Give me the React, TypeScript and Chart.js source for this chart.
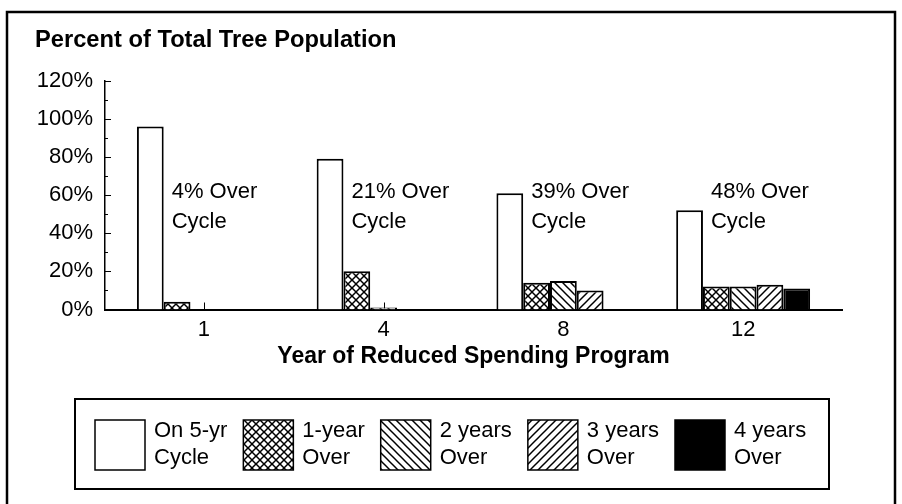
import React, { useEffect, useRef } from "react";
import { Chart, registerables } from "chart.js";

Chart.register(...registerables);

// ---- data ----
const years = ["1", "4", "8", "12"];
const onCycle = [96, 79, 61, 52];
const oneYearOver = [4, 20, 14, 12];
const twoYearsOver = [0, 1, 15, 12];
const threeYearsOver = [0, 0, 10, 13];
const fourYearsOver = [0, 0, 0, 11];
const percentOverCycle = [4, 21, 39, 48];
const seriesNames = [
  ["On 5-yr", "Cycle"],
  ["1-year", "Over"],
  ["2 years", "Over"],
  ["3 years", "Over"],
  ["4 years", "Over"],
];
const seriesValues = [onCycle, oneYearOver, twoYearsOver, threeYearsOver, fourYearsOver];
const seriesFillKinds = ["white", "cross", "back", "fwd", "black"];
const chartTitle = "Percent of Total Tree Population";
const xAxisTitle = "Year of Reduced Spending Program";
const yMax = 120;
const yStep = 20;

const FONT = '"Liberation Sans", Arial, Helvetica, sans-serif';

function makeFill(kind: string): CanvasPattern | string {
  if (kind === "white") return "#ffffff";
  if (kind === "black") return "#000000";
  const s = 8;
  const c = document.createElement("canvas");
  c.width = s;
  c.height = s;
  const g = c.getContext("2d")!;
  g.fillStyle = "#ffffff";
  g.fillRect(0, 0, s, s);
  g.strokeStyle = "#000000";
  g.lineWidth = 1.5;
  const back = () => {
    for (const o of [-s, 0, s]) {
      g.beginPath();
      g.moveTo(o - 1, -1);
      g.lineTo(o + s + 1, s + 1);
      g.stroke();
    }
  };
  const fwd = () => {
    for (const o of [0, s, 2 * s]) {
      g.beginPath();
      g.moveTo(o + 1, -1);
      g.lineTo(o - s - 1, s + 1);
      g.stroke();
    }
  };
  if (kind === "cross") {
    back();
    fwd();
  } else if (kind === "back") back();
  else if (kind === "fwd") fwd();
  const p = g.createPattern(c, "repeat");
  return p || "#888";
}

const decorPlugin = {
  id: "decor",
  beforeDatasetsDraw(chart: any) {
    const ctx = chart.ctx as CanvasRenderingContext2D;
    const { left, bottom } = chart.chartArea;
    const xs = chart.scales.x;
    const ys = chart.scales.y;
    ctx.save();
    ctx.strokeStyle = "#000";
    ctx.lineWidth = 1;
    for (let v = 0; v <= yMax; v += yStep / 2) {
      const y = Math.round(ys.getPixelForValue(v)) + 0.5;
      const len = v % yStep === 0 ? 6 : 3;
      ctx.beginPath();
      ctx.moveTo(left, y);
      ctx.lineTo(left + len, y);
      ctx.stroke();
    }
    years.forEach((_, i) => {
      const x = Math.round(xs.getPixelForValue(i)) + 0.5;
      ctx.beginPath();
      ctx.moveTo(x, bottom);
      ctx.lineTo(x, bottom - 7);
      ctx.stroke();
    });
    ctx.restore();
  },
  afterDraw(chart: any) {
    const ctx = chart.ctx as CanvasRenderingContext2D;
    const { left, right } = chart.chartArea;
    const ys = chart.scales.y;
    ctx.save();
    // outer frame
    ctx.strokeStyle = "#000";
    ctx.lineWidth = 2.5;
    ctx.strokeRect(7, 12, 888, 540);

    // chart title
    ctx.fillStyle = "#000";
    ctx.textBaseline = "middle";
    ctx.textAlign = "left";
    ctx.font = `bold 23.7px ${FONT}`;
    ctx.fillText(chartTitle, 35, 40);

    // x axis title
    ctx.font = `bold 23px ${FONT}`;
    ctx.textAlign = "center";
    ctx.fillText(xAxisTitle, (left + right) / 2, 357);

    // annotations
    ctx.textAlign = "left";
    ctx.font = `22px ${FONT}`;
    const meta0 = chart.getDatasetMeta(0);
    percentOverCycle.forEach((p, i) => {
      const bar: any = meta0.data[i];
      const x = bar.x + bar.width / 2 + 8;
      ctx.fillText(`${p}% Over`, x, ys.getPixelForValue(61.5));
      ctx.fillText("Cycle", x, ys.getPixelForValue(46));
    });

    // legend
    ctx.lineWidth = 2;
    ctx.strokeRect(75, 399, 754, 90);
    ctx.lineWidth = 1.5;
    let x = 95;
    seriesNames.forEach((lines, i) => {
      const fill = chart.data.datasets[i].backgroundColor;
      ctx.fillStyle = fill;
      ctx.fillRect(x, 420, 50, 50);
      ctx.strokeRect(x, 420, 50, 50);
      ctx.fillStyle = "#000";
      ctx.fillText(lines[0], x + 59, 431);
      ctx.fillText(lines[1], x + 59, 458);
      const w = Math.max(...lines.map((l) => ctx.measureText(l).width));
      x += 59 + w + 16;
    });
    ctx.restore();
  },
};

export default function App() {
  const ref = useRef<HTMLCanvasElement>(null);

  useEffect(() => {
    const canvas = ref.current;
    if (!canvas) return;
    const datasets = seriesNames.map((name, si) => ({
      label: name.join(" "),
      data: seriesValues[si].map((v, i) => ({ x: i, y: v })),
      backgroundColor: makeFill(seriesFillKinds[si]) as any,
      borderColor: "#000000",
      borderWidth: 2,
      barPercentage: 1,
      categoryPercentage: 0.745,
    }));

    const chart = new Chart(canvas, {
      type: "bar",
      data: { datasets },
      options: {
        animation: false,
        responsive: false,
        maintainAspectRatio: false,
        devicePixelRatio: 1,
        events: [],
        layout: { padding: { top: 80.7, right: 60, bottom: 160.5, left: 0 } },
        plugins: {
          legend: { display: false },
          title: { display: false },
          tooltip: { enabled: false },
        },
        scales: {
          x: {
            type: "linear",
            min: -0.55,
            max: 3.55,
            offset: false,
            bounds: "data",
            grid: { display: false, drawTicks: false },
            border: { display: true, color: "#000", width: 2 },
            ticks: {
              autoSkip: false,
              maxRotation: 0,
              padding: 7,
              color: "#000",
              font: { family: FONT, size: 22 },
              callback: (v: any) => years[v as number] ?? "",
            },
            afterBuildTicks: (scale: any) => {
              scale.ticks = years.map((_, i) => ({ value: i }));
            },
            afterFit: (scale: any) => {
              scale.height = 34;
            },
          },
          y: {
            min: 0,
            max: yMax,
            grid: { display: false, drawTicks: false },
            border: { display: true, color: "#000", width: 1.5 },
            ticks: {
              stepSize: yStep,
              padding: 12,
              color: "#000",
              font: { family: FONT, size: 22 },
              callback: (v: any) => `${v}%`,
            },
            afterFit: (scale: any) => {
              scale.width = 105;
            },
          },
        },
      } as any,
      plugins: [decorPlugin as any],
    });
    return () => chart.destroy();
  }, []);

  return (
    <div
      style={{
        position: "absolute",
        left: 0,
        top: 0,
        width: 902,
        height: 504,
        background: "#ffffff",
      }}
    >
      <canvas
        ref={ref}
        width={902}
        height={504}
        style={{ display: "block", width: 902, height: 504 }}
      />
    </div>
  );
}
